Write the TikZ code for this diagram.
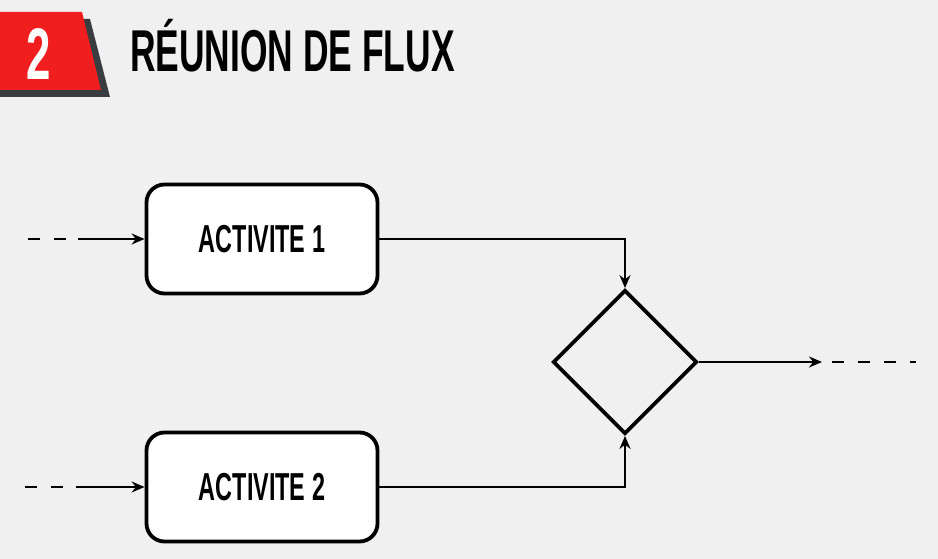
\documentclass[tikz,border=0pt]{standalone}
\usepackage{fontspec}
\newfontfamily\condfont[FakeStretch=0.6]{Liberation Sans}
\definecolor{bgGray}{RGB}{240, 240, 240}
\definecolor{flagRed}{RGB}{240, 30, 30}
\definecolor{shadowGray}{RGB}{58, 61, 64}
\usetikzlibrary{shapes.geometric,arrows.meta,positioning}

\begin{document}
\begin{tikzpicture}[x=1pt,y=-1pt,
                activity/.style={draw,line width=3.8pt,rounded corners=18pt,fill=white,
                           minimum width=231pt,minimum height=109pt,
                           font=\condfont\bfseries\fontsize{39}{39}\selectfont},
                merge/.style={diamond,draw,line width=3.8pt,minimum width=144pt,
                           minimum height=144pt,inner sep=0pt},
                flow/.style={line width=2.6pt,-{Stealth[length=13pt,width=11pt]}},
                loose/.style={line width=2.6pt,dash pattern=on 12pt off 14pt}
            ]
                \fill[bgGray] (0,0) rectangle (938,559);
                % header
                \fill[shadowGray] (0,19) -- (90,19) -- (110,97) -- (0,97) -- cycle;
                \fill[flagRed] (0,12) -- (82,12) -- (101,90) -- (0,90) -- cycle;
                \node[text=white,anchor=base,inner sep=0pt,
                      font=\condfont\bfseries\fontsize{73}{73}\selectfont] (num) at (39,80) {2};
                \node[anchor=base west,inner sep=0pt,
                      font=\condfont\bfseries\fontsize{59}{59}\selectfont] (title) at (130,72) {RÉUNION DE FLUX};

                \node[activity] (act1) at (262,239) {ACTIVITE 1};
                \node[activity] (act2) at (262,487) {ACTIVITE 2};
                \node[merge] (join) at (625,362) {};

                \coordinate (in1) at (28,239);
                \coordinate (in1b) at (78,239);
                \coordinate (in2) at (25,487);
                \coordinate (in2b) at (76,487);
                \coordinate (outa) at (822,362);
                \coordinate (outb) at (916,362);

                \draw[loose] (in1) -- (in1b);
                \draw[flow] (in1b) -- (act1.west);
                \draw[loose] (in2) -- (in2b);
                \draw[flow] (in2b) -- (act2.west);

                \draw[flow] (act1.east) -| (join.north);
                \draw[flow] (act2.east) -| (join.south);

                \draw[flow] (join.east) -- (outa);
                \draw[loose,dash phase=-10pt] (outa) -- (outb);
            \end{tikzpicture}
\end{document}
